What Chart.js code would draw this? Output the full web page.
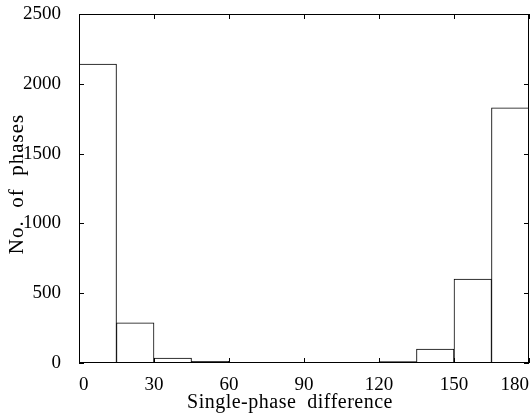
<!DOCTYPE html>
<html>
<head>
<meta charset="utf-8">
<script src="https://cdn.jsdelivr.net/npm/chart.js@4"></script>
<style>
    html, body { margin: 0; padding: 0; background: #fff; }
    #wrap { width: 531px; height: 414px; }
</style>
</head>
<body>
<div id="wrap"><canvas id="histChart" width="531" height="414"></canvas></div>
<script>
// bin centres (degrees) and counts
const binCentres = [7.5, 22.5, 37.5, 52.5, 67.5, 82.5, 97.5, 112.5, 127.5, 142.5, 157.5, 172.5];
const phaseCounts = [2142, 287, 36, 12, 4, 0, 2, 0, 10, 100, 602, 1827];
const xTicks = [0, 30, 60, 90, 120, 150, 180];
const yTicks = [0, 500, 1000, 1500, 2000, 2500];
const xTitle = 'Single-phase  difference';
const yTitle = 'No.  of  phases';

const serif = 'Liberation Serif';

// frame round the plot plus small inward tick marks on all four sides
const frameTicks = {
    id: 'frameTicks',
    afterDraw(chart) {
        const ctx = chart.ctx;
        const a = chart.chartArea;
        const xs = chart.scales.x;
        const ys = chart.scales.y;
        const len = 5;
        ctx.save();
        ctx.strokeStyle = '#000';
        ctx.lineWidth = 1;
        ctx.strokeRect(a.left + 0.5, a.top + 0.5, a.right - a.left - 1, a.bottom - a.top - 1);
        ctx.beginPath();
        xTicks.forEach(v => {
            const px = Math.round(xs.getPixelForValue(v)) + 0.5;
            ctx.moveTo(px, a.bottom);
            ctx.lineTo(px, a.bottom - len);
            ctx.moveTo(px, a.top);
            ctx.lineTo(px, a.top + len);
        });
        yTicks.forEach(v => {
            const py = Math.round(ys.getPixelForValue(v)) + 0.5;
            ctx.moveTo(a.left, py);
            ctx.lineTo(a.left + len, py);
            ctx.moveTo(a.right, py);
            ctx.lineTo(a.right - len, py);
        });
        ctx.stroke();
        ctx.restore();
    }
};

// axis titles, slightly letter-spaced like the original typesetting
const spacedTitles = {
    id: 'spacedTitles',
    afterDraw(chart) {
        const ctx = chart.ctx;
        ctx.save();
        ctx.fillStyle = '#000';
        ctx.textAlign = 'center';
        ctx.textBaseline = 'middle';

        ctx.font = '20px "' + serif + '"';
        ctx.letterSpacing = '0.5px';
        ctx.fillText(xTitle, 290, 403);

        ctx.translate(17, 184);
        ctx.rotate(-Math.PI / 2);
        ctx.font = '21px "' + serif + '"';
        ctx.letterSpacing = '1px';
        ctx.fillText(yTitle, 0, 0);
        ctx.restore();
    }
};

const ctx = document.getElementById('histChart').getContext('2d');

new Chart(ctx, {
    type: 'bar',
    data: {
        datasets: [{
            label: 'No. of phases',
            data: binCentres.map((c, i) => ({ x: c, y: phaseCounts[i] })),
            backgroundColor: '#fff',
            borderColor: '#000',
            borderWidth: 1,
            barPercentage: 1,
            categoryPercentage: 1
        }]
    },
    options: {
        responsive: false,
        animation: false,
        layout: { padding: { top: 14, right: 2, left: 0, bottom: 0 } },
        plugins: {
            legend: { display: false },
            tooltip: { enabled: false }
        },
        scales: {
            x: {
                type: 'linear',
                offset: false,
                min: 0,
                max: 180,
                afterBuildTicks: (scale) => { scale.ticks = xTicks.map(v => ({ value: v })); },
                afterFit: (scale) => {
                    scale.height = 51;
                    scale.paddingLeft = 0;
                    scale.paddingRight = 0;
                },
                grid: { display: false },
                border: { display: false },
                ticks: {
                    color: '#000',
                    padding: 3,
                    maxRotation: 0,
                    align: 'inner',
                    font: { family: serif, size: 19 },
                    callback: (v) => String(v)
                }
            },
            y: {
                min: 0,
                max: 2500,
                afterBuildTicks: (scale) => { scale.ticks = yTicks.map(v => ({ value: v })); },
                afterFit: (scale) => {
                    scale.width = 79;
                    scale.paddingTop = 0;
                    scale.paddingBottom = 0;
                },
                grid: { display: false },
                border: { display: false },
                ticks: {
                    color: '#000',
                    padding: 10,
                    font: { family: serif, size: 19 },
                    callback: (v) => String(v)
                }
            }
        }
    },
    plugins: [frameTicks, spacedTitles]
});
</script>
</body>
</html>
